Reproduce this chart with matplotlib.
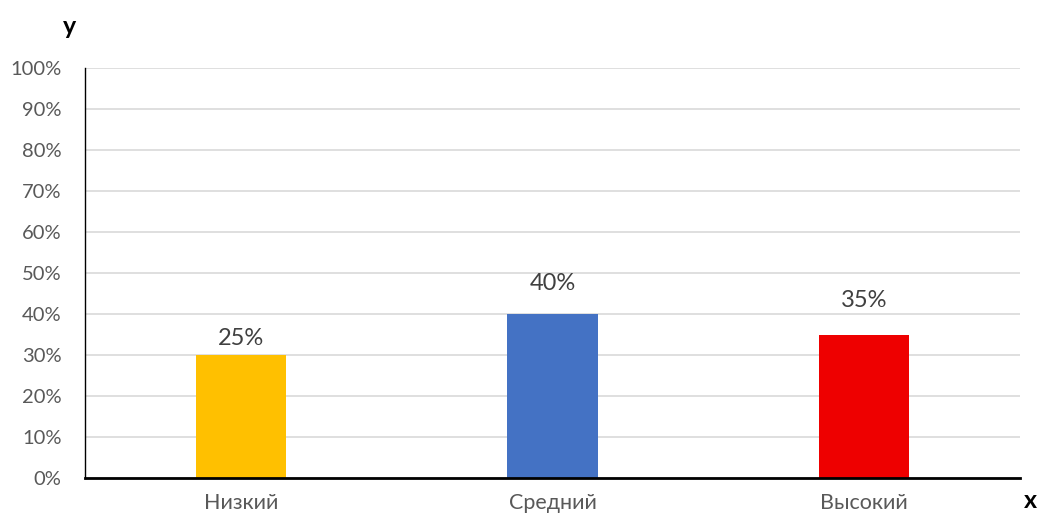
import numpy as np
import matplotlib.pyplot as plt

# data
categories = ['Низкий', 'Средний', 'Высокий']
heights = [30, 40, 35]          # bar heights in %
bar_labels = ['25%', '40%', '35%']
colors = ['#FFC000', '#4472C4', '#EE0000']

plt.rcParams['font.family'] = ['Lato', 'DejaVu Sans']
txt_color = '#595959'
fs = 14.5

fig = plt.figure(figsize=(10.37, 5.18), dpi=100)
ax = fig.add_axes([0.082, 0.0772, 0.9016, 0.7915])

x = np.arange(len(categories))
bars = ax.bar(x, heights, width=0.29, color=colors, zorder=3)

# label offsets above each bar (points), as placed in the original
label_offsets = [12, 22, 24.5]
for rect, lab, off in zip(bars, bar_labels, label_offsets):
    ax.annotate(lab, (rect.get_x() + rect.get_width() / 2, rect.get_height()),
                xytext=(0, off), textcoords='offset points', ha='center', va='center',
                fontsize=17, color='#404040')

ax.set_xlim(-0.5, len(categories) - 0.5)
ax.set_ylim(0, 100)
ax.set_yticks(np.arange(0, 101, 10))
ax.set_yticklabels([f'{v}%' for v in range(0, 101, 10)], fontsize=fs, color=txt_color)
ax.set_xticks(x)
ax.set_xticklabels(categories, fontsize=15.5, color=txt_color)
ax.tick_params(axis='both', length=0)
ax.tick_params(axis='y', pad=17)
ax.tick_params(axis='x', pad=11)

ax.grid(axis='y', color='#d9d9d9', linewidth=1.2, zorder=0)
for s in ['top', 'right']:
    ax.spines[s].set_visible(False)
ax.spines['left'].set_color('black')
ax.spines['left'].set_linewidth(1.0)
ax.spines['bottom'].set_color('black')
ax.spines['bottom'].set_linewidth(2.0)
ax.spines['left'].set_zorder(4)
ax.spines['bottom'].set_zorder(4)

fig.text(70 / 1037, 1 - 27 / 518, 'y', fontsize=18, fontweight='bold', ha='center', va='center')
fig.text(1030 / 1037, 1 - 500 / 518, 'x', fontsize=18, fontweight='bold', ha='center', va='center')

fig.savefig('out.png', dpi=100)
